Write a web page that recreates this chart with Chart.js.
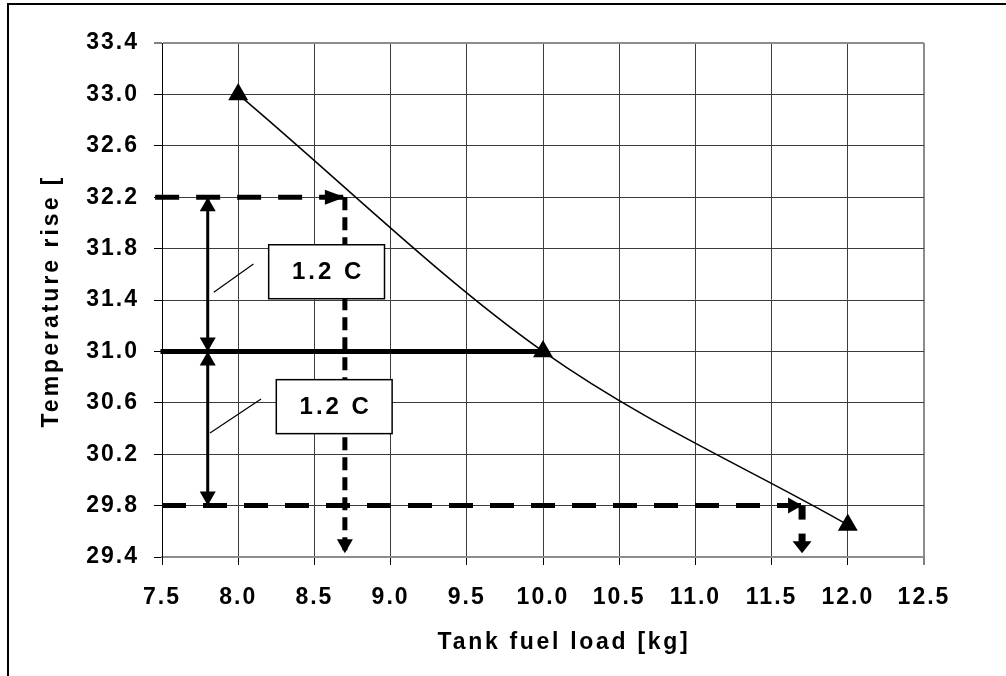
<!DOCTYPE html>
<html>
<head>
<meta charset="utf-8">
<script src="https://cdn.jsdelivr.net/npm/chart.js@4"></script>
<style>
  html, body { margin: 0; padding: 0; background: #fff; }
  canvas { display: block; }
</style>
</head>
<body>
<canvas id="chart" width="1006" height="676"></canvas>
<script>
// measured points
const fuelLoad = [8.0, 10.0, 12.0];
const tempRise = [33.0, 31.0, 29.65];

const xTicks = [7.5, 8.0, 8.5, 9.0, 9.5, 10.0, 10.5, 11.0, 11.5, 12.0, 12.5];
const yTicks = [29.4, 29.8, 30.2, 30.6, 31.0, 31.4, 31.8, 32.2, 32.6, 33.0, 33.4];

// reading construction: 31.0 C +/- 1.2 C
const riseLevels = [32.2, 31.0, 29.8];
const readLoads = [8.7, 10.0, 11.7];
const spanLoad = 7.8;
const dropTo = 29.43;
const boxLabels = ["1.2 C", "1.2 C"];

const FONT = "'Liberation Sans', Arial, sans-serif";

const seg = (x0, y0, x1, y1) => [{ x: x0, y: y0 }, { x: x1, y: y1 }];

// guide lines (drawn as datasets)
const guides = [
  { data: seg(7.455, riseLevels[0], readLoads[0], riseLevels[0]), borderWidth: 5, borderDash: [24, 17] },
  { data: seg(readLoads[0], riseLevels[0], readLoads[0], dropTo), borderWidth: 5, borderDash: [13, 7] },
  { data: seg(7.49, riseLevels[1], readLoads[1], riseLevels[1]), borderWidth: 5 },
  { data: seg(spanLoad, riseLevels[0], spanLoad, riseLevels[2]), borderWidth: 3 },
  { data: seg(xTicks[0], riseLevels[2], readLoads[2], riseLevels[2]), borderWidth: 5, borderDash: [24, 17] },
  { data: seg(readLoads[2], riseLevels[2], readLoads[2], dropTo), borderWidth: 7, borderDash: [14, 14] }
];

// arrow tips: where the arrow points and which way
const arrowHeads = [
  { x: readLoads[0], y: riseLevels[0], dir: "right", size: "long" },
  { x: readLoads[0], y: dropTo, dir: "down", size: "short" },
  { x: spanLoad, y: riseLevels[0], dir: "up", size: "short" },
  { x: spanLoad, y: riseLevels[1], dir: "down", size: "short" },
  { x: spanLoad, y: riseLevels[1], dir: "up", size: "short" },
  { x: spanLoad, y: riseLevels[2], dir: "down", size: "short" },
  { x: readLoads[2], y: riseLevels[2], dir: "right", size: "short" },
  { x: readLoads[2], y: dropTo, dir: "down", size: "wide" }
];
const headSize = { long: [20, 7.5], short: [14, 8], wide: [12, 9.5] };

// text boxes and their leader lines, in data units
const boxes = [
  { x0: 8.20, x1: 8.96, y0: 31.83, y1: 31.41 },
  { x0: 8.25, x1: 9.01, y0: 30.78, y1: 30.36 }
];
const leaders = [
  seg(7.84, 31.46, 8.10, 31.68),
  seg(7.815, 30.365, 8.15, 30.63)
];

const decorPlugin = {
  id: "decor",
  beforeDraw(chart) {
    const { ctx, width, height } = chart;
    ctx.save();
    ctx.fillStyle = "#fff";
    ctx.fillRect(0, 0, width, height);
    ctx.strokeStyle = "#000";
    ctx.lineWidth = 2;
    ctx.beginPath();
    ctx.moveTo(8, height);
    ctx.lineTo(8, 4);
    ctx.lineTo(width, 4);
    ctx.stroke();
    ctx.restore();
    ctx.letterSpacing = "2px";
  },
  afterDatasetsDraw(chart) {
    const { ctx, scales: { x, y } } = chart;
    const dirs = { right: 0, down: Math.PI / 2, left: Math.PI, up: -Math.PI / 2 };
    ctx.save();
    ctx.fillStyle = "#000";
    arrowHeads.forEach(a => {
      const [len, half] = headSize[a.size];
      ctx.save();
      ctx.translate(x.getPixelForValue(a.x), y.getPixelForValue(a.y));
      ctx.rotate(dirs[a.dir]);
      ctx.beginPath();
      ctx.moveTo(0, 0);
      ctx.lineTo(-len, -half);
      ctx.lineTo(-len, half);
      ctx.closePath();
      ctx.fill();
      ctx.restore();
    });

    ctx.strokeStyle = "#000";
    ctx.lineWidth = 1.2;
    leaders.forEach(l => {
      ctx.beginPath();
      ctx.moveTo(x.getPixelForValue(l[0].x), y.getPixelForValue(l[0].y));
      ctx.lineTo(x.getPixelForValue(l[1].x), y.getPixelForValue(l[1].y));
      ctx.stroke();
    });

    ctx.lineWidth = 1.5;
    ctx.font = "bold 24px " + FONT;
    ctx.letterSpacing = "3px";
    ctx.textAlign = "center";
    ctx.textBaseline = "middle";
    boxes.forEach((b, i) => {
      const l = x.getPixelForValue(b.x0), r = x.getPixelForValue(b.x1);
      const t = y.getPixelForValue(b.y0), bt = y.getPixelForValue(b.y1);
      ctx.fillStyle = "#fff";
      ctx.fillRect(l, t, r - l, bt - t);
      ctx.strokeRect(l, t, r - l, bt - t);
      ctx.fillStyle = "#000";
      ctx.fillText(boxLabels[i], (l + r) / 2 + 1.5, (t + bt) / 2 + 1);
    });
    ctx.restore();
  },
  afterDraw(chart) {
    const { ctx, chartArea } = chart;
    ctx.save();
    ctx.fillStyle = "#000";
    ctx.font = "bold 23px " + FONT;
    ctx.letterSpacing = "2.7px";
    ctx.textAlign = "center";
    ctx.textBaseline = "alphabetic";
    ctx.fillText("Tank fuel load [kg]", (chartArea.left + chartArea.right) / 2 + 21, 649);
    ctx.letterSpacing = "3px";
    ctx.translate(58, (chartArea.top + chartArea.bottom) / 2 + 1);
    ctx.rotate(-Math.PI / 2);
    ctx.fillText("Temperature rise [", 0, 0);
    ctx.restore();
  }
};

const gridColor = "#3c3c3c";
const edgeColor = "#8c8c8c";

new Chart(document.getElementById("chart"), {
  type: "line",
  data: {
    datasets: [
      {
        data: fuelLoad.map((v, i) => ({ x: v, y: tempRise[i] })),
        borderColor: "#000",
        borderWidth: 1.5,
        cubicInterpolationMode: "monotone",
        pointStyle: "triangle",
        pointRadius: 11.5,
        pointBackgroundColor: "#000",
        pointBorderColor: "#000",
        pointBorderWidth: 0
      },
      ...guides.map(g => ({
        data: g.data,
        borderColor: "#000",
        borderWidth: g.borderWidth,
        borderDash: g.borderDash || [],
        borderCapStyle: "butt",
        pointRadius: 0,
        clip: false
      }))
    ]
  },
  options: {
    responsive: false,
    animation: false,
    events: [],
    layout: { padding: { top: 43, right: 82, left: 0, bottom: 0 } },
    plugins: { legend: { display: false }, tooltip: { enabled: false } },
    scales: {
      x: {
        type: "linear",
        min: 7.5,
        max: 12.5,
        afterBuildTicks: s => { s.ticks = xTicks.map(v => ({ value: v })); },
        afterFit: s => { s.height = 119; },
        ticks: {
          padding: 19,
          color: "#000",
          font: { family: FONT, size: 23, weight: "bold" },
          callback: v => v.toFixed(1),
          maxRotation: 0
        },
        grid: {
          color: c => c.tick && c.tick.value === 12.5 ? edgeColor : (c.tick && c.tick.value === 7.5 ? "#000" : gridColor),
          lineWidth: c => c.tick && c.tick.value === 12.5 ? 2 : 1,
          tickLength: 8,
          tickColor: "#000",
          tickWidth: 1
        },
        border: { color: edgeColor, width: 2 }
      },
      y: {
        type: "linear",
        min: 29.4,
        max: 33.4,
        afterBuildTicks: s => { s.ticks = yTicks.map(v => ({ value: v })); },
        afterFit: s => { s.width = 162; },
        ticks: {
          padding: 15,
          color: "#000",
          font: { family: FONT, size: 23, weight: "bold" },
          callback: v => v.toFixed(1)
        },
        grid: {
          color: c => c.tick && (c.tick.value === 33.4 || c.tick.value === 29.4) ? edgeColor : gridColor,
          lineWidth: c => c.tick && c.tick.value === 33.4 ? 2 : 1,
          tickLength: 8,
          tickColor: "#000",
          tickWidth: 1
        },
        border: { color: "#000", width: 1 }
      }
    }
  },
  plugins: [decorPlugin]
});
</script>
</body>
</html>
